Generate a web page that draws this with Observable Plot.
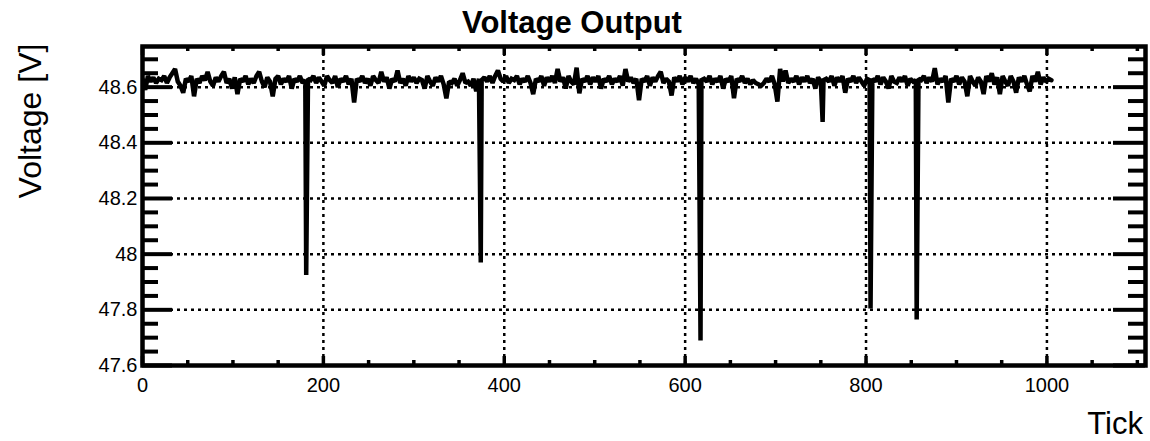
<!DOCTYPE html>
<html>
<head>
<meta charset="utf-8">
<script src="https://cdn.jsdelivr.net/npm/d3@7"></script>
<script src="https://cdn.jsdelivr.net/npm/@observablehq/plot@0.6"></script>
<style>
  html, body { margin: 0; padding: 0; background: #fff; }
  #wrap { position: relative; width: 1150px; height: 441px; font-family: "Liberation Sans", Arial, sans-serif; color: #000; }
  #wrap svg { position: absolute; left: 0; top: 0; }
  .lbl { position: absolute; line-height: 1; white-space: nowrap; }
  #title { left: 0; width: 1144px; top: 7px; text-align: center; font-weight: bold; font-size: 31px; }
  #ylabel { left: -120px; width: 300px; top: 105px; text-align: center; font-size: 32px; transform: rotate(-90deg); transform-origin: 150px 16px; }
  #xlabel { right: 7px; top: 408px; font-size: 31px; }
</style>
</head>
<body>
<div id="wrap">
  <div id="chart"></div>
  <div class="lbl" id="title">Voltage Output</div>
  <div class="lbl" id="ylabel">Voltage [V]</div>
  <div class="lbl" id="xlabel">Tick</div>
</div>
<script>
// ---- data ----
const tickStep = 3; // baseline trace: one sample every 3 ticks
const voltage = [
  48.63, 48.59, 48.64, 48.62, 48.635, 48.615, 48.63, 48.625, 48.64, 48.615, 48.635, 48.65, 48.665, 48.62, 48.605, 48.58, 48.63, 48.62, 48.64, 48.567,
  48.63, 48.615, 48.64, 48.625, 48.655, 48.62, 48.605, 48.635, 48.62, 48.64, 48.655, 48.615, 48.63, 48.595, 48.635, 48.575, 48.63, 48.62, 48.64, 48.61,
  48.63, 48.615, 48.64, 48.655, 48.62, 48.6, 48.635, 48.62, 48.567, 48.63, 48.64, 48.61, 48.63, 48.62, 48.64, 48.595, 48.63, 48.62, 48.64, 48.615,
  48.625, 48.63, 48.625, 48.64, 48.615, 48.635, 48.62, 48.605, 48.64, 48.625, 48.615, 48.64, 48.6, 48.63, 48.62, 48.64, 48.61, 48.63, 48.545, 48.63,
  48.62, 48.64, 48.615, 48.63, 48.605, 48.64, 48.625, 48.615, 48.655, 48.62, 48.635, 48.595, 48.63, 48.62, 48.66, 48.615, 48.63, 48.605, 48.64, 48.62,
  48.635, 48.615, 48.63, 48.625, 48.595, 48.64, 48.62, 48.605, 48.635, 48.62, 48.64, 48.61, 48.56, 48.62, 48.615, 48.63, 48.605, 48.625, 48.65, 48.615,
  48.62, 48.605, 48.63, 48.585, 48.63, 48.625, 48.635, 48.62, 48.64, 48.615, 48.64, 48.66, 48.63, 48.62, 48.64, 48.615, 48.63, 48.625, 48.64, 48.61,
  48.63, 48.62, 48.64, 48.615, 48.575, 48.63, 48.62, 48.64, 48.605, 48.635, 48.62, 48.64, 48.615, 48.665, 48.62, 48.635, 48.595, 48.64, 48.62, 48.61,
  48.67, 48.578, 48.63, 48.62, 48.64, 48.61, 48.635, 48.62, 48.64, 48.595, 48.63, 48.62, 48.64, 48.61, 48.63, 48.62, 48.64, 48.605, 48.665, 48.62,
  48.635, 48.615, 48.63, 48.553, 48.63, 48.62, 48.64, 48.605, 48.635, 48.62, 48.64, 48.655, 48.615, 48.63, 48.62, 48.57, 48.635, 48.62, 48.64, 48.61,
  48.635, 48.62, 48.64, 48.615, 48.63, 48.61, 48.625, 48.63, 48.62, 48.64, 48.61, 48.63, 48.62, 48.64, 48.595, 48.63, 48.62, 48.64, 48.56, 48.63,
  48.62, 48.64, 48.615, 48.63, 48.61, 48.625, 48.615, 48.61, 48.605, 48.615, 48.63, 48.62, 48.64, 48.61, 48.548, 48.665, 48.62, 48.66, 48.615, 48.63,
  48.62, 48.64, 48.61, 48.635, 48.62, 48.64, 48.615, 48.63, 48.595, 48.635, 48.62, 48.625, 48.63, 48.62, 48.64, 48.605, 48.635, 48.62, 48.64, 48.58,
  48.63, 48.62, 48.64, 48.615, 48.635, 48.62, 48.605, 48.63, 48.625, 48.63, 48.62, 48.64, 48.61, 48.635, 48.62, 48.595, 48.64, 48.62, 48.615, 48.635,
  48.62, 48.64, 48.605, 48.63, 48.62, 48.625, 48.63, 48.625, 48.64, 48.615, 48.635, 48.62, 48.668, 48.61, 48.63, 48.62, 48.64, 48.545, 48.63, 48.62,
  48.64, 48.61, 48.635, 48.62, 48.567, 48.64, 48.62, 48.605, 48.635, 48.62, 48.575, 48.64, 48.62, 48.65, 48.61, 48.635, 48.575, 48.64, 48.62, 48.605,
  48.64, 48.62, 48.58, 48.635, 48.62, 48.64, 48.61, 48.585, 48.64, 48.62, 48.655, 48.61, 48.635, 48.62, 48.63, 48.625
];
// single-tick voltage drops
const spikeTicks = [181, 374, 617, 752, 805, 856];
const spikeVolts = [47.925, 47.97, 47.69, 48.475, 47.805, 47.765];

const xDomain = [0, 1109];
const yDomain = [47.6, 48.746];
const xMajor = [0, 200, 400, 600, 800, 1000];
const xTickLabels = ["0", "200", "400", "600", "800", "1000"];
const xMinor = [50, 100, 150, 250, 300, 350, 450, 500, 550, 650, 700, 750, 850, 900, 950, 1050, 1100];
const yMajor = [47.6, 47.8, 48, 48.2, 48.4, 48.6];
const yTickLabels = ["47.6", "47.8", "48", "48.2", "48.4", "48.6"];
const yMinor = [47.65, 47.7, 47.75, 47.85, 47.9, 47.95, 48.05, 48.1, 48.15, 48.25, 48.3, 48.35, 48.45, 48.5, 48.55, 48.65, 48.7];
const xGrid = [200, 400, 600, 800, 1000];
const yGrid = [47.8, 48, 48.2, 48.4, 48.6];

const series = voltage.map((v, i) => ({tick: i * tickStep, voltage: v}))
  .concat(spikeTicks.map((t, i) => ({tick: t, voltage: spikeVolts[i]})))
  .sort((a, b) => a.tick - b.tick);

// ---- layout ----
const W = 1150, H = 441;
const mL = 142, mR = 5, mT = 46, mB = 76;
const fw = W - mL - mR, fh = H - mT - mB;
const dash = "3,4";

const chart = Plot.plot({
  width: W, height: H,
  marginLeft: mL, marginRight: mR, marginTop: mT, marginBottom: mB,
  style: {fontFamily: "'Liberation Sans', Arial, sans-serif", fontSize: "20px", color: "#000", background: "transparent", overflow: "visible"},
  x: {domain: xDomain, axis: null},
  y: {domain: yDomain, axis: null},
  marks: [
    Plot.ruleX(xGrid, {x: d => d, stroke: "#000", strokeWidth: 2.5, strokeDasharray: dash}),
    Plot.ruleY(yGrid, {y: d => d, stroke: "#000", strokeWidth: 2.5, strokeDasharray: dash}),
    Plot.line(series, {x: "tick", y: "voltage", stroke: "#000", strokeWidth: 4.5, strokeLinejoin: "miter", strokeMiterlimit: 1.5, clip: true}),
    // inward ticks
    Plot.tickX(xMajor, {x: d => d, insetTop: fh - 9, stroke: "#000", strokeWidth: 3.5}),
    Plot.tickX(xMinor, {x: d => d, insetTop: fh - 5, stroke: "#000", strokeWidth: 3.5}),
    Plot.tickX(xMajor, {x: d => d, insetBottom: fh - 9, stroke: "#000", strokeWidth: 3.5}),
    Plot.tickX(xMinor, {x: d => d, insetBottom: fh - 5, stroke: "#000", strokeWidth: 3.5}),
    Plot.tickY(yMajor, {y: d => d, insetRight: fw - 30, stroke: "#000", strokeWidth: 4}),
    Plot.tickY(yMinor, {y: d => d, insetRight: fw - 16, stroke: "#000", strokeWidth: 4}),
    Plot.tickY(yMajor, {y: d => d, insetLeft: fw - 32, stroke: "#000", strokeWidth: 4}),
    Plot.tickY(yMinor, {y: d => d, insetLeft: fw - 17, stroke: "#000", strokeWidth: 4}),
    Plot.frame({stroke: "#000", strokeWidth: 4.5}),
    Plot.axisX({ticks: xMajor, tickSize: 0, tickPadding: 12, tickFormat: d => xTickLabels[xMajor.indexOf(d)], label: null, fontSize: 20}),
    Plot.axisY({ticks: yMajor, tickSize: 0, tickPadding: 5, tickFormat: d => yTickLabels[yMajor.indexOf(d)], label: null, fontSize: 20})
  ]
});
document.getElementById("chart").appendChild(chart);
</script>
</body>
</html>
